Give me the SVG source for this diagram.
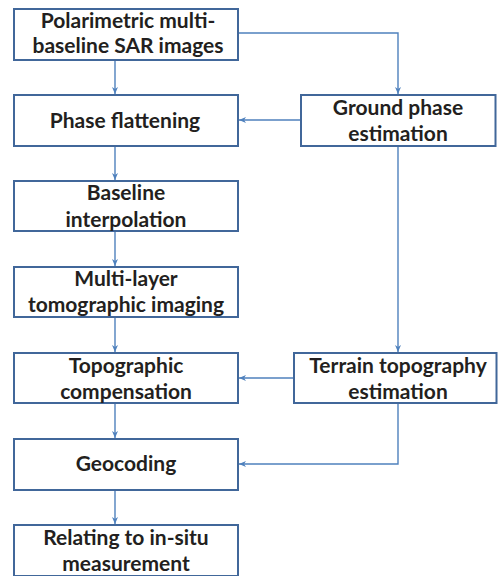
<svg xmlns="http://www.w3.org/2000/svg" width="498" height="576" viewBox="0 0 498 576">
<defs>
<style>
.box{fill:#fff;stroke:#41679a;stroke-width:2}
.t{font-family:Lato,"Open Sans","Liberation Sans",sans-serif;font-weight:bold;font-size:21px;fill:#231f20;text-anchor:middle}
.c{fill:none;stroke:#4f81bd;stroke-width:1.4}
</style>
<marker id="ah" markerWidth="8" markerHeight="8" refX="7" refY="4" orient="auto" markerUnits="userSpaceOnUse">
<path d="M0,1 L7,4 L0,7 L2,4 Z" fill="#4f81bd"/>
</marker>
</defs>
<rect width="498" height="576" fill="#fff"/>
<g id="connectors">
<path class="c" d="M115,60 V94" marker-end="url(#ah)"/>
<path class="c" d="M238,33 H398 V94" marker-end="url(#ah)"/>
<path class="c" d="M300,120 H239" marker-end="url(#ah)"/>
<path class="c" d="M398,146 V352" marker-end="url(#ah)"/>
<path class="c" d="M115,146 V180" marker-end="url(#ah)"/>
<path class="c" d="M115,231 V266" marker-end="url(#ah)"/>
<path class="c" d="M115,317 V352" marker-end="url(#ah)"/>
<path class="c" d="M294,378 H239" marker-end="url(#ah)"/>
<path class="c" d="M115,403 V438" marker-end="url(#ah)"/>
<path class="c" d="M398,403 V464 H239" marker-end="url(#ah)"/>
<path class="c" d="M115,490 V524" marker-end="url(#ah)"/>
</g>
<g id="n1"><rect class="box" x="14" y="9" width="224" height="51"/><text class="t" x="128" y="28">Polarimetric multi-</text><text class="t" x="128" y="53">baseline SAR images</text></g>
<g id="n2"><rect class="box" x="14" y="95" width="224" height="51"/><text class="t" x="125" y="128">Phase flattening</text></g>
<g id="n3"><rect class="box" x="14" y="181" width="224" height="50"/><text class="t" x="126" y="200">Baseline</text><text class="t" x="126" y="227">interpolation</text></g>
<g id="n4"><rect class="box" x="14" y="267" width="224" height="50"/><text class="t" x="126" y="286">Multi-layer</text><text class="t" x="126" y="312">tomographic imaging</text></g>
<g id="n5"><rect class="box" x="14" y="353" width="224" height="50"/><text class="t" x="126" y="373">Topographic</text><text class="t" x="126" y="399">compensation</text></g>
<g id="n6"><rect class="box" x="14" y="439" width="224" height="51"/><text class="t" x="126" y="471">Geocoding</text></g>
<g id="n7"><rect class="box" x="14" y="525" width="224" height="51"/><text class="t" x="126" y="545">Relating to in-situ</text><text class="t" x="126" y="571">measurement</text></g>
<g id="n8"><rect class="box" x="301" y="95" width="194.5" height="51"/><text class="t" x="398" y="115">Ground phase</text><text class="t" x="398" y="141">estimation</text></g>
<g id="n9"><rect class="box" x="294" y="353" width="202.5" height="50"/><text class="t" x="398" y="373">Terrain topography</text><text class="t" x="398" y="399">estimation</text></g>
</svg>
